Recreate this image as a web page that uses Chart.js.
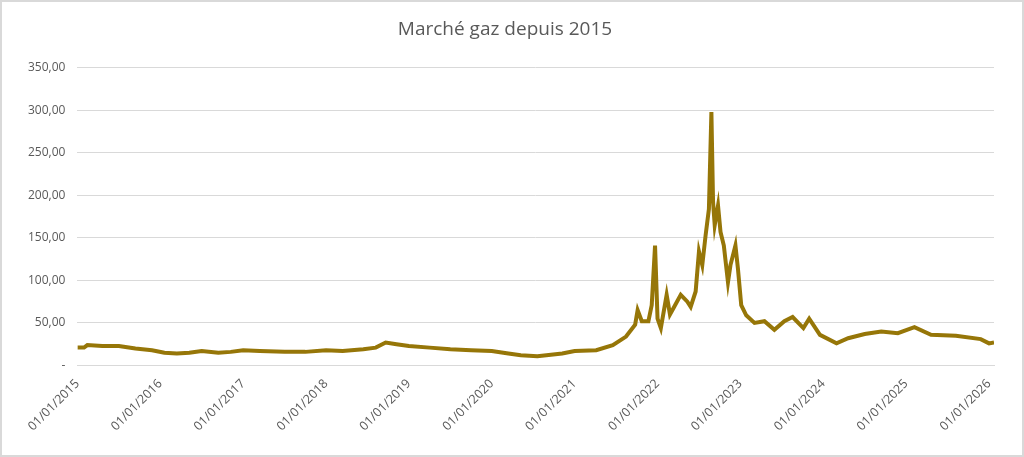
<!DOCTYPE html>
<html>
<head>
<meta charset="utf-8">
<script src="https://cdn.jsdelivr.net/npm/chart.js@4/dist/chart.umd.min.js"></script>
<style>
  html, body { margin: 0; padding: 0; background: #fff; }
  #wrap { width: 1020px; height: 453px; border: 2px solid #d9d9d9; }
</style>
</head>
<body>
<div id="wrap"><canvas id="c" width="1020" height="453"></canvas></div>
<script>
// Date as fractional year, price in €/MWh
const years = [
  2015.00, 2015.08, 2015.12, 2015.30, 2015.50, 2015.70, 2015.90, 2016.05, 2016.20, 2016.35,
  2016.50, 2016.70, 2016.85, 2017.00, 2017.20, 2017.50, 2017.75, 2018.00, 2018.20, 2018.45,
  2018.60, 2018.72, 2018.85, 2019.00, 2019.25, 2019.50, 2019.75, 2020.00, 2020.20, 2020.35,
  2020.55, 2020.85, 2021.00, 2021.26, 2021.46, 2021.62, 2021.73, 2021.76, 2021.81, 2021.89,
  2021.93, 2021.97, 2022.00, 2022.04, 2022.11, 2022.15, 2022.19, 2022.28, 2022.36, 2022.40,
  2022.46, 2022.50, 2022.54, 2022.58, 2022.62, 2022.65, 2022.67, 2022.69, 2022.73, 2022.76,
  2022.80, 2022.85, 2022.88, 2022.94, 2022.97, 2023.01, 2023.07, 2023.17, 2023.29, 2023.41,
  2023.53, 2023.63, 2023.76, 2023.83, 2023.96, 2024.16, 2024.30, 2024.50, 2024.70, 2024.90,
  2025.10, 2025.30, 2025.60, 2025.90, 2026.00, 2026.06
];
const prices = [
  21, 21, 24, 23, 23, 20, 18, 15, 14, 15,
  17, 15, 16, 18, 17, 16, 16, 18, 17, 19,
  21, 27, 25, 23, 21, 19, 18, 17, 14, 12,
  11, 14, 17, 18, 24, 34, 48, 65, 52, 52,
  71, 141, 55, 44, 83, 60, 67, 83, 75, 69,
  87, 134, 118, 153, 184, 298, 192, 165, 188, 157,
  141, 98, 118, 141, 114, 71, 59, 50, 52, 42,
  52, 57, 44, 55, 36, 26, 32, 37, 40, 38,
  45, 36, 35, 31, 26, 27
];
const xTicks = [2015, 2016, 2017, 2018, 2019, 2020, 2021, 2022, 2023, 2024, 2025, 2026];

const grey = "#595959";
new Chart(document.getElementById("c"), {
  type: "line",
  data: {
    datasets: [{
      data: years.map((y, i) => ({ x: y, y: prices[i] })),
      borderColor: "#967608",
      borderWidth: 4,
      pointRadius: 0,
      tension: 0,
    }],
  },
  options: {
    responsive: false,
    animation: false,
    layout: { padding: { left: 14, right: 28, top: 8, bottom: 18 } },
    plugins: {
      legend: { display: false },
      tooltip: { enabled: false },
      title: {
        display: true,
        text: "Marché gaz depuis 2015",
        color: grey,
        font: { family: "Open Sans", size: 19, weight: "normal" },
        padding: { top: 8, bottom: 27 },
      },
    },
    scales: {
      x: {
        type: "linear",
        min: 2015,
        max: 2026.06,
        afterBuildTicks: (ax) => { ax.ticks = xTicks.map(v => ({ value: v })); },
        ticks: {
          color: grey,
          font: { family: "Open Sans", size: 12.5 },
          maxRotation: 45, minRotation: 45,
          callback: (v) => "01/01/" + v,
        },
        grid: { display: false, drawTicks: true },
        border: { color: "#d9d9d9" },
      },
      y: {
        min: 0, max: 350,
        ticks: {
          stepSize: 50,
          color: grey,
          font: { family: "Open Sans", size: 12 },
          padding: 12,
          callback: (v) => v === 0 ? "-" : v.toFixed(2).replace(".", ","),
        },
        grid: { color: "#d9d9d9", drawTicks: false },
        border: { display: false },
      },
    },
  },
});
</script>
</body>
</html>
